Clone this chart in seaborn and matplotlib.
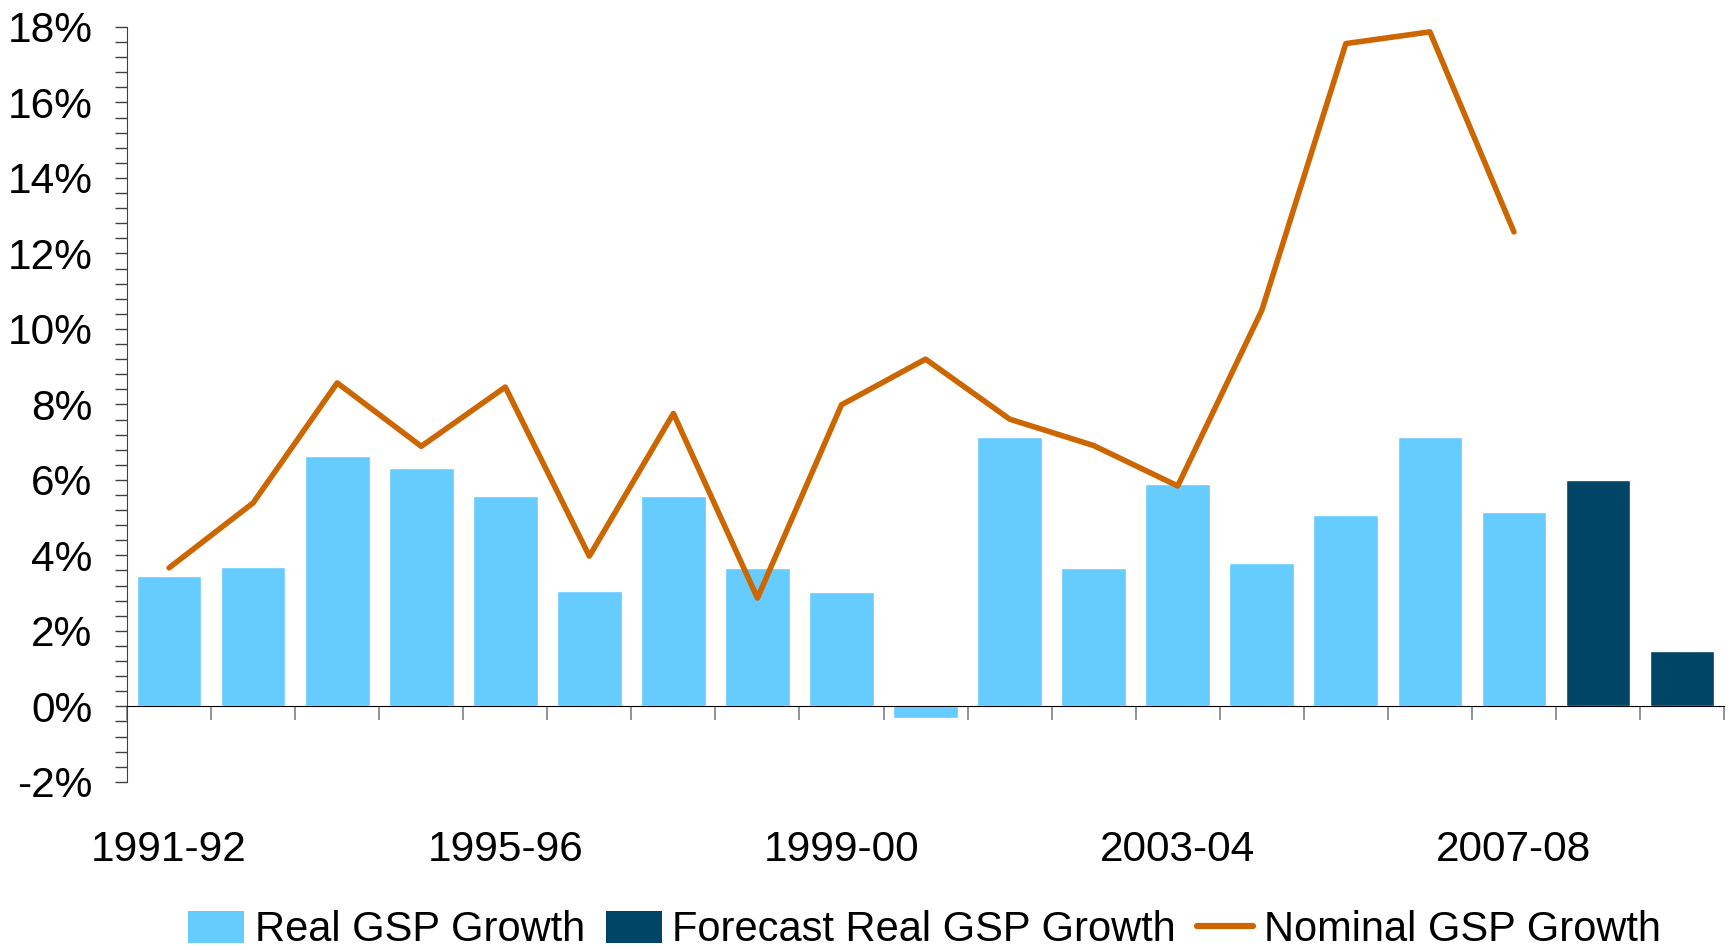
import numpy as np
import pandas as pd
import matplotlib
matplotlib.use("Agg")
import matplotlib.pyplot as plt
import seaborn as sns
from matplotlib.ticker import MultipleLocator, FuncFormatter
from matplotlib.patches import Patch
from matplotlib.lines import Line2D

# data (percent)
periods = ['1991-92', '1992-93', '1993-94', '1994-95', '1995-96', '1996-97',
           '1997-98', '1998-99', '1999-00', '2000-01', '2001-02', '2002-03',
           '2003-04', '2004-05', '2005-06', '2006-07', '2007-08', '2008-09',
           '2009-10']
real_gsp = [3.45, 3.69, 6.64, 6.31, 5.57, 3.06, 5.57, 3.67, 3.03, -0.32,
            7.14, 3.67, 5.90, 3.79, 5.07, 7.14, 5.16]
forecast_gsp = [6.01, 1.47]
nominal_gsp = [3.67, 5.39, 8.57, 6.89, 8.46, 3.98, 7.76, 2.87, 7.99, 9.20,
               7.61, 6.91, 5.84, 10.49, 17.56, 17.87, 12.57]

light_blue = '#66CCFF'
dark_blue = '#004466'
orange = '#CC6600'

sns.set_style("white")
plt.rcParams['font.family'] = ['Liberation Sans', 'DejaVu Sans']
plt.rcParams['axes.unicode_minus'] = False
plt.rcParams['text.color'] = 'black'
plt.rcParams['xtick.labelcolor'] = 'black'
plt.rcParams['ytick.labelcolor'] = 'black'

df = pd.DataFrame({
    'period': periods,
    'growth': real_gsp + forecast_gsp,
    'kind': ['Real GSP Growth'] * len(real_gsp) + ['Forecast Real GSP Growth'] * len(forecast_gsp),
})

fig, ax = plt.subplots(figsize=(17.31, 9.5), dpi=100)
fig.subplots_adjust(left=0.0734, right=0.996, bottom=0.177, top=0.9716)

sns.barplot(data=df, x='period', y='growth', hue='kind',
            palette={'Real GSP Growth': light_blue, 'Forecast Real GSP Growth': dark_blue},
            dodge=False, width=0.77, saturation=1, legend=False, ax=ax)
sns.lineplot(x=np.arange(len(nominal_gsp)), y=nominal_gsp, color=orange,
             linewidth=4, ax=ax, solid_joinstyle='round', solid_capstyle='round')

ax.set_xlim(-0.5, len(periods) - 0.5)
ax.set_ylim(-2, 18)
ax.set_xlabel('')
ax.set_ylabel('')

# y axis
ax.yaxis.set_major_locator(MultipleLocator(2))
ax.yaxis.set_minor_locator(MultipleLocator(0.4))
ax.yaxis.set_major_formatter(FuncFormatter(lambda v, p: '%d%%' % round(v)))
ax.tick_params(axis='y', which='both', direction='out', length=9, width=1,
               color='#404040', left=True, labelsize=30.5, pad=16)

# x axis sits at zero, labels far below
ax.spines['bottom'].set_position(('data', 0))
ax.spines['bottom'].set_color('black')
ax.spines['left'].set_color('#404040')
ax.spines['top'].set_visible(False)
ax.spines['right'].set_visible(False)
ax.set_xticks(np.arange(0, len(periods), 4))
ax.set_xticklabels(periods[::4])
ax.set_xticks(np.arange(-0.5, len(periods), 1), minor=True)
ax.tick_params(axis='x', which='major', length=0, labelsize=30.5, pad=89)
ax.tick_params(axis='x', which='minor', direction='out', length=10, width=1.2,
               color='#808080', bottom=True)

handles = [Patch(facecolor=light_blue, edgecolor='none', label='Real GSP Growth'),
           Patch(facecolor=dark_blue, edgecolor='none', label='Forecast Real GSP Growth'),
           Line2D([], [], color=orange, linewidth=4.5, label='Nominal GSP Growth')]
fig.legend(handles=handles, loc='center', bbox_to_anchor=(0.534, 0.021), ncol=3,
           frameon=False, fontsize=30, handlelength=1.35, handleheight=0.8,
           handletextpad=0.25, columnspacing=0.5, borderaxespad=0, borderpad=0)

fig.savefig('out.png', dpi=100)
